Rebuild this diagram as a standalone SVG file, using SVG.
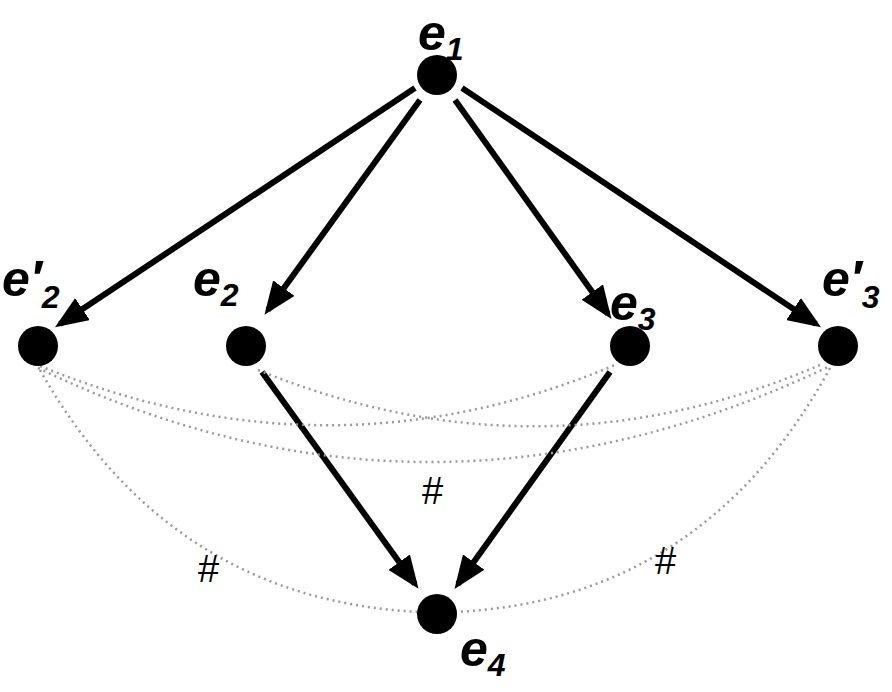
<svg xmlns="http://www.w3.org/2000/svg" width="892" height="692" viewBox="0 0 892 692">
<style>
.n{fill:#000}
.a{stroke:#000;stroke-width:6;fill:none;marker-end:url(#ah)}
.d{stroke:#999;stroke-width:2.5;stroke-dasharray:2 4;fill:none}
.l{font-family:"Liberation Sans",Arial,sans-serif;font-weight:bold;font-style:italic;font-size:50px}
.s{font-size:32px}
.h{font-family:"Liberation Sans",Arial,sans-serif;font-size:38px}
</style>
<defs><marker id="ah" markerWidth="5.5" markerHeight="4.4" refX="4.5" refY="2.2" orient="auto"><path d="M0,0L5.5,2.2L0,4.4z" fill="#000"/></marker></defs>
<rect width="892" height="692" fill="#fff"/>
<g id="connectors">
<path class="a" d="M415,88L60,324"/>
<path class="a" d="M420,100L268,310"/>
<path class="a" d="M455,100L608,314"/>
<path class="a" d="M462,88L816,324"/>
<path class="a" d="M262,372L415,584"/>
<path class="a" d="M610,372L458,584"/>
<path class="d" d="M40,366Q330,485 615,365"/>
<path class="d" d="M258,370Q540,485 820,365"/>
<path class="d" d="M38,368Q430,557 830,366"/>
<path class="d" d="M40,370Q170,600 420,612"/>
<path class="d" d="M830,368Q704,600 455,612"/>
</g>
<g id="e1"><circle class="n" cx="437" cy="75" r="20"/><text class="l" x="418" y="50">e<tspan class="s" dy="10">1</tspan></text></g>
<g id="e2p"><circle class="n" cx="38" cy="346" r="20"/><text class="l" x="2" y="296">e′<tspan class="s" dy="12">2</tspan></text></g>
<g id="e2"><circle class="n" cx="246" cy="346" r="20"/><text class="l" x="193" y="296">e<tspan class="s" dy="10">2</tspan></text></g>
<g id="e3"><circle class="n" cx="630" cy="346" r="20"/><text class="l" x="610" y="320">e<tspan class="s" dy="10">3</tspan></text></g>
<g id="e3p"><circle class="n" cx="838" cy="346" r="20"/><text class="l" x="822" y="296">e′<tspan class="s" dy="12">3</tspan></text></g>
<g id="e4"><circle class="n" cx="437" cy="614" r="20"/><text class="l" x="460" y="666">e<tspan class="s" dy="10">4</tspan></text></g>
<g id="marks"><text class="h" x="422" y="504">#</text><text class="h" x="198" y="582">#</text><text class="h" x="655" y="574">#</text></g>
</svg>
